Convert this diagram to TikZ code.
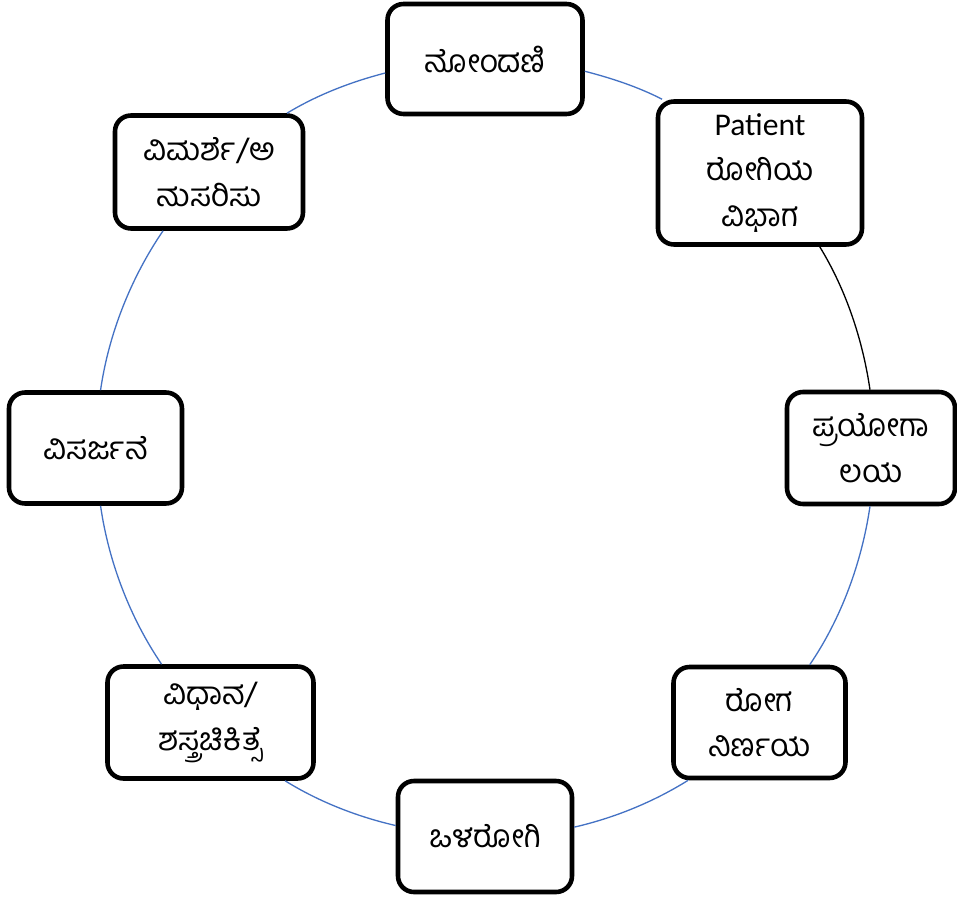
\documentclass[tikz,border=0pt]{standalone}
\usepackage{fontspec}
\setmainfont{Carlito}
\newfontfamily\kn[Script=Kannada]{Hind Mysuru}
\usepackage{tikz}
\usepackage{xcolor}
\definecolor{ringblue}{RGB}{68,114,196}

\begin{document}
\begin{tikzpicture}[
    box/.style={rectangle, draw, fill=white, line width=2.6pt, rounded corners=0.32cm, align=center, font=\fontsize{18}{26}\selectfont\kn},
    ring/.style={draw=ringblue, line width=0.75pt, looseness=0.85}]

    \useasboundingbox (-9.7,-9.02) rectangle (9.44,8.96);

    % Steps round the circle
    \node[box, minimum width=3.9cm, minimum height=2.2cm] (reg) at (0,7.78) {ನೋಂದಣಿ};
    \node[box, minimum width=4.08cm, minimum height=2.86cm] (opd) at (5.5,5.5) {{\fontspec{Carlito}Patient}\\ರೋಗಿಯ\\ವಿಭಾಗ};
    \node[box, minimum width=3.36cm, minimum height=2.24cm] (lab) at (7.72,0) {ಪ್ರಯೋಗಾ\\ಲಯ};
    \node[box, minimum width=3.44cm, minimum height=2.22cm] (diag) at (5.49,-5.49) {ರೋಗ\\ನಿರ್ಣಯ};
    \node[box, minimum width=3.48cm, minimum height=2.22cm] (ipd) at (0,-7.77) {ಒಳರೋಗಿ};
    \node[box, minimum width=4.12cm, minimum height=2.24cm] (surg) at (-5.49,-5.49) {ವಿಧಾನ/\\ಶಸ್ತ್ರಚಿಕಿತ್ಸೆ};
    \node[box, minimum width=3.46cm, minimum height=2.22cm] (disch) at (-7.79,0) {ವಿಸರ್ಜನೆ};
    \node[box, minimum width=3.76cm, minimum height=2.26cm] (follow) at (-5.52,5.52) {ವಿಮರ್ಶೆ/ಅ\\ನುಸರಿಸು};

    % Arcs of the circle, clockwise
    \draw[ring] (reg.-7.3) to[out=-14.5, in=152.9] (opd.143.9);
    \draw[line width=0.75pt, looseness=0.85] (opd.-51.7) to[out=-58.5, in=98.3] (lab.91);
    \draw[ring] (lab.-91) to[out=-98.3, in=55.7] (diag.49.7);
    \draw[ring] (diag.-141) to[out=-148, in=12.9] (ipd.6.2);
    \draw[ring] (ipd.173.8) to[out=167.1, in=-31.8] (surg.-38.9);
    \draw[ring] (surg.130.3) to[out=124.2, in=-81.8] (disch.-85.4);
    \draw[ring] (disch.85.4) to[out=81.8, in=-124.4] (follow.-128.5);
    \draw[ring] (follow.37.4) to[out=31.3, in=-165.5] (reg.-172.7);
\end{tikzpicture}
\end{document}
